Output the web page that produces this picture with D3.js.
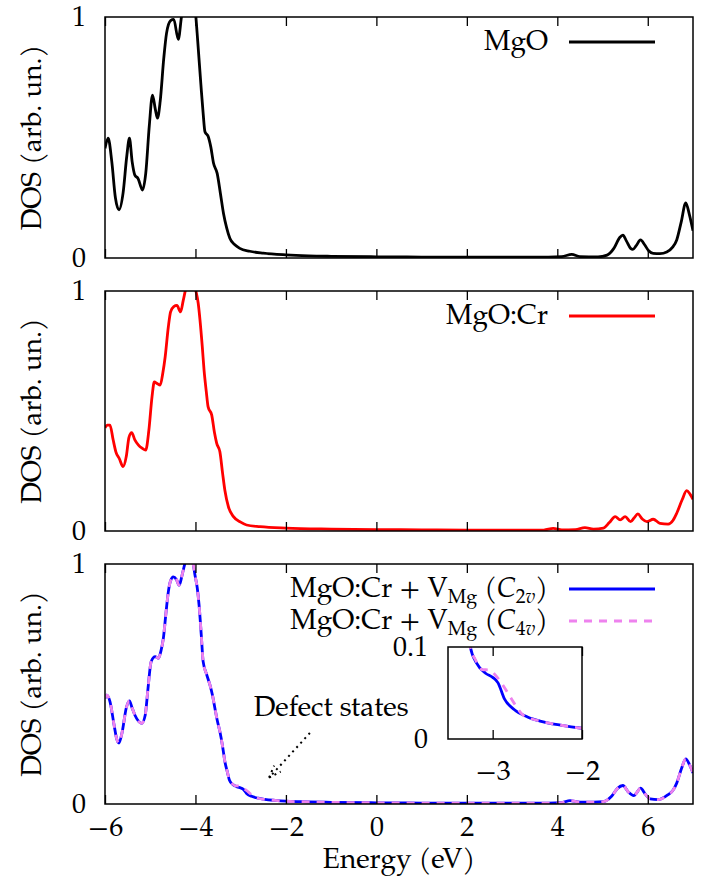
<!DOCTYPE html>
<html>
<head>
<meta charset="utf-8">
<script src="https://cdn.jsdelivr.net/npm/d3@7"></script>
<style>
body { margin: 0; background: #fff; }
svg text { font-family: "TeX Gyre Pagella", "Liberation Serif", serif; }
</style>
</head>
<body>
<svg id="chart" width="709" height="886"></svg>
<script>
// ---- data: [energy (eV), DOS (arb. un.)] ----
var mgo = [
  [-6.00,0.455],[-5.93,0.497],[-5.85,0.40],[-5.77,0.25],[-5.69,0.20],[-5.60,0.27],
  [-5.52,0.42],[-5.46,0.497],[-5.40,0.40],[-5.34,0.344],[-5.27,0.33],[-5.17,0.282],
  [-5.10,0.35],[-5.02,0.55],[-4.95,0.676],[-4.89,0.62],[-4.84,0.58],[-4.78,0.65],
  [-4.70,0.83],[-4.64,0.932],[-4.55,0.985],[-4.48,0.99],[-4.38,0.907],[-4.31,1.0],
  [-4.22,1.10],[-4.10,1.12],[-4.00,1.02],[-3.95,0.90],[-3.88,0.72],[-3.83,0.60],
  [-3.79,0.524],[-3.72,0.505],[-3.66,0.46],[-3.60,0.393],[-3.52,0.351],[-3.45,0.27],
  [-3.38,0.185],[-3.31,0.125],[-3.24,0.082],[-3.13,0.055],[-3.02,0.04],[-2.80,0.028],
  [-2.50,0.02],[-2.00,0.013],[-1.50,0.009],[-1.00,0.007],[0,0.005],[1,0.004],[2,0.004],
  [3,0.004],[3.8,0.004],[4.1,0.006],[4.32,0.015],[4.5,0.006],[4.9,0.005],[5.1,0.012],
  [5.25,0.04],[5.38,0.085],[5.45,0.095],[5.53,0.07],[5.62,0.04],[5.67,0.036],[5.74,0.05],
  [5.84,0.075],[5.93,0.055],[6.02,0.03],[6.12,0.019],[6.27,0.018],[6.42,0.025],[6.55,0.045],
  [6.64,0.075],[6.74,0.15],[6.84,0.229],[6.92,0.18],[7.00,0.113]
];

var mgoCr = [
  [-6.00,0.43],[-5.95,0.441],[-5.89,0.441],[-5.82,0.38],[-5.76,0.33],[-5.68,0.30],
  [-5.60,0.268],[-5.53,0.31],[-5.47,0.39],[-5.41,0.41],[-5.34,0.38],[-5.26,0.358],
  [-5.18,0.345],[-5.10,0.337],[-5.03,0.42],[-4.96,0.56],[-4.91,0.621],[-4.85,0.615],
  [-4.78,0.608],[-4.72,0.66],[-4.67,0.725],[-4.60,0.85],[-4.55,0.913],[-4.48,0.935],
  [-4.41,0.94],[-4.33,0.913],[-4.27,0.961],[-4.20,1.02],[-4.10,1.05],[-3.99,1.0],
  [-3.94,0.95],[-3.90,0.88],[-3.85,0.77],[-3.81,0.67],[-3.76,0.58],[-3.72,0.517],
  [-3.64,0.483],[-3.58,0.41],[-3.53,0.365],[-3.46,0.33],[-3.40,0.24],[-3.35,0.17],
  [-3.27,0.10],[-3.16,0.06],[-3.00,0.037],[-2.87,0.025],[-2.57,0.018],[-2.00,0.012],
  [-1.00,0.008],[0,0.006],[1,0.005],[2,0.004],[3,0.004],[3.7,0.004],[3.91,0.011],
  [4.1,0.005],[4.4,0.006],[4.61,0.014],[4.8,0.008],[5.02,0.012],[5.15,0.035],[5.28,0.06],
  [5.39,0.046],[5.50,0.06],[5.62,0.039],[5.70,0.055],[5.78,0.071],[5.88,0.05],[5.98,0.039],
  [6.12,0.049],[6.27,0.032],[6.45,0.029],[6.56,0.045],[6.64,0.074],[6.76,0.13],[6.86,0.168],
  [6.93,0.155],[7.00,0.132]
];

var mgoCrVc2v = [
  [-6.00,0.44],[-5.96,0.454],[-5.89,0.427],[-5.80,0.33],[-5.74,0.27],[-5.69,0.254],
  [-5.62,0.30],[-5.53,0.40],[-5.46,0.43],[-5.40,0.40],[-5.34,0.371],[-5.26,0.345],
  [-5.19,0.336],[-5.11,0.371],[-5.05,0.48],[-4.98,0.593],[-4.89,0.614],[-4.82,0.607],
  [-4.76,0.64],[-4.71,0.69],[-4.65,0.80],[-4.60,0.884],[-4.55,0.93],[-4.49,0.946],
  [-4.42,0.935],[-4.36,0.912],[-4.30,0.95],[-4.27,0.974],[-4.20,1.02],[-4.12,1.03],
  [-4.05,1.0],[-4.01,0.953],[-3.96,0.90],[-3.92,0.829],[-3.87,0.70],[-3.83,0.593],
  [-3.75,0.538],[-3.68,0.496],[-3.62,0.45],[-3.57,0.399],[-3.52,0.35],[-3.46,0.302],
  [-3.40,0.24],[-3.35,0.177],[-3.29,0.13],[-3.25,0.10],[-3.18,0.0825],[-3.08,0.0715],
  [-3.00,0.067],[-2.94,0.061],[-2.87,0.044],[-2.76,0.032],[-2.61,0.024],[-2.47,0.0195],
  [-2.24,0.015],[-2.00,0.0117],[-1.50,0.009],[-1.00,0.007],[0,0.005],[1,0.004],[2,0.004],
  [3,0.004],[3.8,0.004],[4.1,0.006],[4.28,0.014],[4.5,0.008],[4.8,0.008],[5.02,0.01],
  [5.2,0.032],[5.33,0.065],[5.45,0.077],[5.57,0.05],[5.69,0.035],[5.76,0.048],[5.84,0.066],
  [5.95,0.04],[6.05,0.021],[6.23,0.018],[6.45,0.039],[6.55,0.055],[6.64,0.087],[6.75,0.15],
  [6.84,0.188],[6.92,0.165],[7.00,0.129]
];

var mgoCrVc4v = [
  [-6.00,0.44],[-5.96,0.454],[-5.89,0.427],[-5.80,0.33],[-5.74,0.27],[-5.69,0.254],
  [-5.62,0.30],[-5.53,0.40],[-5.46,0.43],[-5.40,0.40],[-5.34,0.371],[-5.26,0.345],
  [-5.19,0.336],[-5.11,0.371],[-5.05,0.48],[-4.98,0.593],[-4.89,0.614],[-4.82,0.607],
  [-4.76,0.64],[-4.71,0.69],[-4.65,0.80],[-4.60,0.884],[-4.55,0.93],[-4.49,0.946],
  [-4.42,0.935],[-4.36,0.912],[-4.30,0.95],[-4.27,0.974],[-4.20,1.02],[-4.12,1.03],
  [-4.05,1.0],[-4.01,0.953],[-3.96,0.90],[-3.92,0.829],[-3.87,0.70],[-3.83,0.593],
  [-3.75,0.538],[-3.68,0.496],[-3.62,0.45],[-3.57,0.399],[-3.52,0.35],[-3.46,0.302],
  [-3.40,0.24],[-3.35,0.177],[-3.29,0.13],[-3.25,0.10],[-3.19,0.0856],[-3.12,0.0755],
  [-3.04,0.075],[-2.94,0.066],[-2.84,0.0515],[-2.76,0.039],[-2.66,0.026],[-2.47,0.0195],
  [-2.24,0.015],[-2.00,0.0117],[-1.50,0.009],[-1.00,0.007],[0,0.005],[1,0.004],[2,0.004],
  [3,0.004],[3.8,0.004],[4.1,0.006],[4.28,0.014],[4.5,0.008],[4.8,0.008],[5.02,0.01],
  [5.2,0.032],[5.33,0.065],[5.45,0.077],[5.57,0.05],[5.69,0.035],[5.76,0.048],[5.84,0.066],
  [5.95,0.04],[6.05,0.021],[6.23,0.018],[6.45,0.039],[6.55,0.055],[6.64,0.087],[6.75,0.15],
  [6.84,0.188],[6.92,0.165],[7.00,0.129]
];

var xTicks = [-6, -4, -2, 0, 2, 4, 6];
var yTicks = [0, 1];
var insetXTicks = [-3, -2];
var insetYTicks = [0, 0.1];
var yLabel = "DOS (arb. un.)";
var xLabel = "Energy (eV)";
var defectLabel = "Defect states";
// annotation anchor points in data units (text, arrow tail, arrow tip)
var defectText = [-1.0, 0.367];
var defectArrow = [[-1.47, 0.296], [-2.37, 0.11]];

// ---- layout ----
var svg = d3.select('#chart');
var FONT = '"TeX Gyre Pagella", "Liberation Serif", serif';
var FS = 28;
var left = 105, right = 693;
var x = d3.scaleLinear().domain([-6, 7]).range([left, right]);

var panels = [
  {top: 17, bottom: 258, series: [{data: mgo, color: '#000000'}],
   legend: [{parts: [['MgO']], color: '#000000'}]},
  {top: 291, bottom: 531, series: [{data: mgoCr, color: '#ff0000'}],
   legend: [{parts: [['MgO:Cr']], color: '#ff0000'}]},
  {top: 564, bottom: 804,
   series: [{data: mgoCrVc2v, color: '#0000ff'}, {data: mgoCrVc4v, color: '#ee82ee', dash: '8,7'}],
   legend: [
     {parts: [['MgO:Cr + V'], ['Mg', 'sub'], [' ('], ['C', 'it'], ['2', 'sub'], ['v', 'itsub'], [')']], color: '#0000ff'},
     {parts: [['MgO:Cr + V'], ['Mg', 'sub'], [' ('], ['C', 'it'], ['4', 'sub'], ['v', 'itsub'], [')']], color: '#ee82ee', dash: '8,7'}
   ]}
];

function styleAxis(g) {
  g.attr('font-family', null).attr('font-size', null);
  g.select('.domain').remove();
  g.selectAll('line').attr('stroke', '#000').attr('stroke-width', 1.3);
  g.selectAll('text').attr('fill', '#000').style('font-size', FS + 'px').style('font-family', FONT);
}

function writeParts(t, parts) {
  var shift = 0;
  parts.forEach(function(p) {
    var ts = t.append('tspan').text(p[0]);
    var sub = p[1] == 'sub' || p[1] == 'itsub';
    var want = sub ? 6 : 0;
    if (want != shift) { ts.attr('dy', want - shift); shift = want; }
    if (sub) ts.style('font-size', (FS * 0.7) + 'px');
    if (p[1] == 'it' || p[1] == 'itsub') ts.style('font-style', 'italic');
  });
}

function label(sel) {
  return sel.style('font-size', FS + 'px').style('font-family', FONT).attr('fill', '#000');
}

panels.forEach(function(p, i) {
  var y = d3.scaleLinear().domain([0, 1]).range([p.bottom, p.top]);
  var g = svg.append('g');

  svg.append('clipPath').attr('id', 'clip' + i).append('rect')
    .attr('x', left).attr('y', p.top).attr('width', right - left).attr('height', p.bottom - p.top);

  var line = d3.line().x(function(d){ return x(d[0]); }).y(function(d){ return y(d[1]); })
    .curve(d3.curveMonotoneX);

  p.series.forEach(function(s) {
    g.append('path').datum(s.data).attr('d', line)
      .attr('clip-path', 'url(#clip' + i + ')')
      .attr('fill', 'none').attr('stroke', s.color).attr('stroke-width', 2.8)
      .attr('stroke-dasharray', s.dash || null);
  });

  // border
  g.append('rect').attr('x', left).attr('y', p.top).attr('width', right - left)
    .attr('height', p.bottom - p.top).attr('fill', 'none').attr('stroke', '#000').attr('stroke-width', 1.5);

  // x ticks, mirrored at top
  var last = i == panels.length - 1;
  g.append('g').attr('transform', 'translate(0,' + p.bottom + ')')
    .call(d3.axisBottom(x).tickValues(xTicks).tickSizeInner(-9).tickSizeOuter(0).tickPadding(12)
      .tickFormat(last ? d3.format('d') : function(){ return ''; }))
    .call(styleAxis);
  g.append('g').attr('transform', 'translate(0,' + p.top + ')')
    .call(d3.axisTop(x).tickValues(xTicks).tickSizeInner(-9).tickSizeOuter(0).tickFormat(function(){ return ''; }))
    .call(styleAxis);

  g.append('g').attr('transform', 'translate(' + left + ',0)')
    .call(d3.axisLeft(y).tickValues(yTicks).tickSize(0).tickPadding(19).tickFormat(d3.format('d')))
    .call(styleAxis);

  g.append('text').attr('transform', 'translate(41,' + ((p.top + p.bottom) / 2) + ') rotate(-90)')
    .attr('text-anchor', 'middle').call(label).text(yLabel);

  // legend
  p.legend.forEach(function(l, j) {
    var ly = p.top + 25 + j * 32;
    var t = g.append('text').attr('x', 548).attr('y', ly + 8).attr('text-anchor', 'end').call(label);
    writeParts(t, l.parts);
    g.append('line').attr('x1', 569).attr('x2', 655).attr('y1', ly).attr('y2', ly)
      .attr('stroke', l.color).attr('stroke-width', 2.8).attr('stroke-dasharray', l.dash || null);
  });

  if (last) {
    // defect annotation
    g.append('text').attr('x', x(defectText[0])).attr('y', y(defectText[1]))
      .attr('text-anchor', 'middle').call(label).text(defectLabel);
    var x0 = x(defectArrow[0][0]), y0 = y(defectArrow[0][1]);
    var x1 = x(defectArrow[1][0]), y1 = y(defectArrow[1][1]);
    var ang = Math.atan2(y0 - y1, x0 - x1);
    var arrow = g.append('g');
    arrow.append('line').attr('x1', x0).attr('y1', y0).attr('x2', x1).attr('y2', y1);
    [-0.35, 0.35].forEach(function(a) {
      arrow.append('line').attr('x1', x1).attr('y1', y1)
        .attr('x2', x1 + 13 * Math.cos(ang + a)).attr('y2', y1 + 13 * Math.sin(ang + a));
    });
    arrow.selectAll('line').attr('stroke', '#000').attr('stroke-width', 2)
      .attr('stroke-dasharray', '2,4');

    // inset
    var ix = d3.scaleLinear().domain([-3.5, -2]).range([448, 582]);
    var iy = d3.scaleLinear().domain([0, 0.1]).range([739, 647]);
    var ig = svg.append('g');
    ig.append('rect').attr('x', 448).attr('y', 647).attr('width', 134).attr('height', 92).attr('fill', '#fff');
    svg.append('clipPath').attr('id', 'clipInset').append('rect')
      .attr('x', 448).attr('y', 647).attr('width', 134).attr('height', 92);
    var iline = d3.line().x(function(d){ return ix(d[0]); }).y(function(d){ return iy(d[1]); })
      .curve(d3.curveMonotoneX);
    p.series.forEach(function(s) {
      ig.append('path').datum(s.data).attr('d', iline).attr('clip-path', 'url(#clipInset)')
        .attr('fill', 'none').attr('stroke', s.color).attr('stroke-width', 2.8)
        .attr('stroke-dasharray', s.dash || null);
    });
    ig.append('rect').attr('x', 448).attr('y', 647).attr('width', 134).attr('height', 92)
      .attr('fill', 'none').attr('stroke', '#000').attr('stroke-width', 1.5);
    ig.append('g').attr('transform', 'translate(0,739)')
      .call(d3.axisBottom(ix).tickValues(insetXTicks).tickSizeInner(-9).tickSizeOuter(0).tickPadding(21)
        .tickFormat(d3.format('d')))
      .call(styleAxis);
    ig.append('g').attr('transform', 'translate(0,647)')
      .call(d3.axisTop(ix).tickValues(insetXTicks).tickSizeInner(-9).tickSizeOuter(0).tickFormat(function(){ return ''; }))
      .call(styleAxis);
    ig.append('g').attr('transform', 'translate(448,0)')
      .call(d3.axisLeft(iy).tickValues(insetYTicks).tickSize(0).tickPadding(20).tickFormat(d3.format('')))
      .call(styleAxis);
  }
});

svg.append('text').attr('x', 399).attr('y', 868).attr('text-anchor', 'middle')
  .call(label).text(xLabel);
</script>
</body>
</html>
